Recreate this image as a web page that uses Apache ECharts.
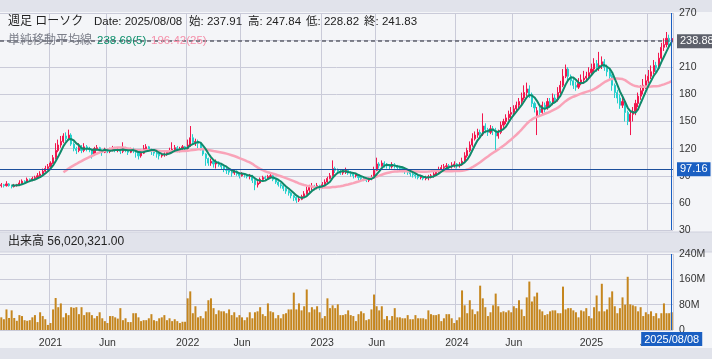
<!DOCTYPE html>
<html><head><meta charset="utf-8">
<script src="https://cdn.jsdelivr.net/npm/echarts@6/dist/echarts.min.js"></script>
<style>html,body{margin:0;padding:0;background:#e1e3eb}#c{width:712px;height:359px}</style>
</head><body><div id="c"></div>
<script>
// ---- weekly categories (week-ending Fridays) ----
const firstWeek = '2020-08-21';
const weekCount = 260;
const weeks = [];
(function(){
  const d = new Date(firstWeek + 'T00:00:00Z');
  for (let i = 0; i < weekCount; i++) {
    const t = new Date(d.getTime() + i * 7 * 86400000);
    const s = t.getUTCFullYear() + '/' + String(t.getUTCMonth()+1).padStart(2,'0') + '/' + String(t.getUTCDate()).padStart(2,'0');
    weeks.push(s);
  }
})();

// ---- weekly candles [open, close, low, high] ----
const ohlc = [
[79,80,77,82],[80,79,77,81],[79,81,78,84],[81,79,78,82],[79,78,76,80],[78,79,77,81],[79,80,78,81],[80,82,79,85],[82,84,81,86],[84,83,81,85],
[83,86,82,88],[86,85,83,87],[85,87,84,89],[87,88,85,90],[88,90,87,93],[90,92,89,95],[92,95,91,98],[95,98,94,101],[98,100,96,103],[100,104,99,106],
[104,110,103,113],[110,118,108,126],[118,124,116,130],[124,128,121,134],[128,134,126,137],[134,131,128,138],[131,135,129,141],[135,125,123,137],[125,120,117,127],[120,118,114,122],
[118,121,116,126],[121,118,115,124],[118,122,116,126],[122,120,117,124],[120,119,116,122],[119,114,109,120],[114,120,112,122],[120,121,118,124],[121,118,115,122],[118,116,112,119],
[116,119,115,121],[119,117,115,120],[117,118,115,121],[118,120,117,123],[120,118,116,122],[118,119,116,121],[119,117,114,120],[117,121,115,127],[121,118,116,122],[118,116,113,119],
[116,119,115,121],[119,118,115,121],[118,116,110,119],[116,112,108,117],[112,115,110,117],[115,120,114,124],[120,122,118,125],[122,119,117,123],[119,117,113,120],[117,115,112,118],
[115,114,110,117],[114,112,108,115],[112,113,110,115],[113,114,111,116],[114,116,112,118],[116,118,114,121],[118,119,115,127],[119,121,117,124],[121,118,116,123],[118,120,116,122],
[120,122,118,124],[122,120,118,123],[120,124,119,130],[124,132,122,145],[132,127,124,136],[127,128,123,131],[128,126,120,130],[126,120,118,127],[120,114,112,121],[114,109,101,115],
[109,104,101,110],[104,106,101,109],[106,103,99,108],[103,105,98,108],[105,102,100,106],[102,100,97,103],[100,97,94,101],[97,96,92,99],[96,94,91,97],[94,93,89,96],
[93,95,91,97],[95,92,90,96],[92,90,87,93],[90,92,89,94],[92,91,88,93],[91,89,87,92],[89,90,86,92],[90,85,82,91],[85,80,74,86],[80,82,77,84],
[82,86,81,88],[86,88,85,90],[88,87,85,90],[87,89,86,91],[89,90,87,92],[90,86,84,91],[86,83,81,87],[83,80,78,84],[80,79,76,82],[79,76,73,80],
[76,73,70,77],[73,71,68,74],[71,68,65,72],[68,66,62,69],[66,63,60,67],[63,64,61,66],[64,67,63,69],[67,70,66,73],[70,74,69,78],[74,77,72,80],
[77,78,74,82],[78,77,74,80],[77,79,75,82],[79,77,74,80],[77,80,76,83],[80,83,79,86],[83,87,82,89],[87,90,86,93],[90,98,89,107],[98,96,93,100],
[96,95,92,98],[95,93,91,97],[93,94,91,96],[94,96,92,99],[96,93,91,97],[93,92,89,95],[92,90,87,93],[90,91,88,93],[91,88,85,92],[88,87,84,90],
[87,86,84,89],[86,85,83,88],[85,86,83,88],[86,88,85,91],[88,96,87,100],[96,103,95,110],[103,101,98,105],[101,104,100,107],[104,102,99,106],[102,101,98,104],
[101,100,97,103],[100,102,98,105],[102,101,98,104],[101,99,96,102],[99,98,95,101],[98,97,94,100],[97,96,92,99],[96,94,91,97],[94,92,89,95],[92,91,88,94],
[91,90,87,93],[90,88,86,91],[88,89,86,91],[89,87,85,90],[87,88,85,90],[88,89,85,91],[89,90,87,92],[90,92,88,94],[92,94,90,96],[94,97,93,100],
[97,99,95,102],[99,100,96,103],[100,101,98,104],[101,100,97,103],[100,102,98,105],[102,103,99,106],[103,101,98,104],[101,102,99,105],[102,106,101,110],[106,112,105,116],
[112,118,110,121],[118,124,116,128],[124,131,122,137],[131,135,129,139],[135,138,132,142],[138,136,132,141],[136,145,134,159],[145,141,137,148],[141,138,134,143],[138,142,136,146],
[142,140,135,145],[140,134,118,143],[134,138,131,141],[138,146,136,150],[146,150,143,153],[150,154,147,158],[154,158,151,162],[158,160,154,166],[160,164,157,168],[164,168,161,172],
[168,172,165,176],[172,176,168,182],[176,182,174,190],[182,186,178,193],[186,180,176,190],[180,170,166,182],[170,165,160,172],[155,162,135,166],[164,160,155,167],[160,168,158,172],
[168,165,160,171],[165,172,163,176],[172,170,165,176],[170,176,168,181],[176,174,170,180],[174,182,172,188],[182,190,180,195],[190,200,188,208],[200,208,198,213],[208,200,196,210],
[200,195,190,202],[195,190,186,198],[190,188,184,194],[188,192,186,198],[192,196,190,202],[196,198,192,206],[198,200,194,205],[200,204,197,210],[204,208,201,214],[208,214,205,220],
[214,210,205,218],[210,212,206,227],[212,216,208,222],[216,210,206,219],[210,205,200,213],[205,200,195,208],[200,190,184,202],[190,182,176,192],[182,176,170,185],[176,168,164,180],
[168,172,165,178],[172,160,150,174],[160,150,146,162],[150,158,135,162],[158,161,150,166],[161,170,157,174],[170,178,166,182],[178,184,174,190],[184,190,180,197],[190,195,186,202],
[195,200,192,207],[200,205,197,212],[205,212,202,218],[212,209,204,216],[209,220,207,226],[220,232,218,237],[232,235,228,242],[235,242,232,249],[242,238,232,246],[237.91,241.83,228.82,247.84]
];

// ---- weekly volume, millions of shares ----
const volumesM = [
40,34,65,38,62,38,29,47,44,31,
29,31,40,47,25,56,44,34,16,22,
65,101,72,84,40,53,47,72,70,72,
50,72,47,56,56,47,37,44,56,37,
28,22,44,44,40,36,69,31,37,25,
25,53,53,40,28,31,31,37,50,31,
28,37,40,47,31,37,28,34,28,22,
26,26,100,122,53,75,40,44,37,59,
94,100,69,50,62,59,59,53,65,47,
56,40,47,40,31,40,56,37,56,59,
72,50,44,84,59,56,37,47,37,50,
53,65,65,118,65,84,62,75,128,56,
72,65,75,56,37,44,100,69,78,69,
81,47,47,50,62,47,44,28,50,59,
53,31,34,65,112,75,62,75,34,44,
31,44,69,40,40,37,37,47,34,34,
47,37,37,37,34,62,50,47,47,50,
28,37,50,50,37,22,31,40,125,78,
53,94,65,50,59,140,100,72,44,56,
78,115,75,56,59,56,62,56,75,69,
94,65,44,103,153,90,106,118,65,59,
47,50,59,62,62,53,53,137,65,69,
69,62,56,40,62,59,69,44,37,72,
109,59,146,59,65,103,122,75,53,69,
103,80,168,81,78,75,59,72,44,56,
50,59,44,53,37,53,84,53,53,56
];

// ---- reference lines / labels ----
const lastPriceLine = 238.88;
const crossPrice = 97.16;
const ma25Tag = 198.05;
const crossDate = '2025/08/08';
const priceAxis = { min: 30, max: 270, interval: 30 };
const volAxis = { min: 0, max: 240, interval: 80 };
const headerTexts = ['週足 ローソク', 'Date: 2025/08/08', '始: 237.91', '高: 247.84', '低: 228.82', '終: 241.83'];
const maTexts = ['単純移動平均線', '238.69(5)', '196.42(25)'];
const volTitle = '出来高 56,020,321.00';

function sma(n) {
  const out = [];
  for (let i = 0; i < ohlc.length; i++) {
    if (i < n - 1) { out.push('-'); continue; }
    let s = 0;
    for (let k = i - n + 1; k <= i; k++) s += ohlc[k][1];
    out.push(+(s / n).toFixed(2));
  }
  return out;
}

const labelIdx = new Set();
for (let i = 1; i < weeks.length; i++) {
  const m = +weeks[i].slice(5,7), pm = +weeks[i-1].slice(5,7);
  if (m !== pm && (m === 1 || m === 6)) labelIdx.add(i);
}
const showTick = (idx) => labelIdx.has(idx);

const FF = "'Liberation Sans','Noto Sans CJK JP',sans-serif";
const GRID_C = '#cacbd9';
const UP = '#f2164d', DOWN = '#25d0cc';
const BLUE = '#1a5fc2';

const chart = echarts.init(document.getElementById('c'), null, {renderer: 'canvas'});
const candleData = ohlc.map(r => [r[0], r[1], r[2], r[3]]);
const HF = '11.5px ' + FF;

chart.setOption({
  animation: false,
  backgroundColor: '#e1e3eb',
  textStyle: { fontFamily: FF },
  grid: [
    { left: 0, right: 39, top: 13, height: 217 },
    { left: 0, right: 39, top: 254, height: 76 }
  ],
  xAxis: [
    { type: 'category', gridIndex: 0, data: weeks, boundaryGap: true,
      axisLine: {show: false}, axisTick: {show: false}, axisLabel: {show: false},
      splitLine: {show: true, interval: showTick, lineStyle: {color: GRID_C, width: 1}} },
    { type: 'category', gridIndex: 1, data: weeks, boundaryGap: true,
      axisLine: {show: false}, axisTick: {show: false},
      axisLabel: { show: true, interval: showTick, color: '#333', fontSize: 10.5, fontFamily: FF, margin: 8,
        formatter: (v) => { const m = +v.slice(5,7); return m === 1 ? v.slice(0,4) : 'Jun'; } },
      splitLine: {show: true, interval: showTick, lineStyle: {color: GRID_C, width: 1}} }
  ],
  yAxis: [
    { type: 'value', gridIndex: 0, position: 'right', min: priceAxis.min, max: priceAxis.max, interval: priceAxis.interval,
      axisLine: {show: false}, axisTick: {show: false},
      axisLabel: {color: '#333', fontSize: 10.5, fontFamily: FF, margin: 6},
      splitLine: {lineStyle: {color: GRID_C, width: 1}} },
    { type: 'value', gridIndex: 1, position: 'right', min: volAxis.min, max: volAxis.max, interval: volAxis.interval,
      axisLine: {show: false}, axisTick: {show: false},
      axisLabel: {color: '#333', fontSize: 10.5, fontFamily: FF, margin: 6, formatter: v => v === 0 ? '0' : v + 'M'},
      splitLine: {lineStyle: {color: GRID_C, width: 1}} }
  ],
  series: [
    { type: 'candlestick', xAxisIndex: 0, yAxisIndex: 0, data: candleData, barWidth: 1.6,
      itemStyle: {color: UP, color0: DOWN, borderColor: UP, borderColor0: DOWN, borderWidth: 1},
      z: 2,
      markLine: { silent: true, symbol: 'none', animation: false, precision: 2,
        data: [
          { yAxis: lastPriceLine, lineStyle: {color: '#5d606b', type: [4, 3], width: 1.5},
            label: {formatter: '238.88', position: 'end', distance: 4, backgroundColor: '#5d606b', color: '#fff', padding: [2, 3, 1, 3], fontSize: 11, fontFamily: FF} },
          { yAxis: ma25Tag, lineStyle: {opacity: 0},
            label: {formatter: '198.05', position: 'end', distance: 4, backgroundColor: '#f7a1b5', color: '#fff', padding: [2, 3, 1, 3], fontSize: 11, fontFamily: FF} },
          { yAxis: crossPrice, lineStyle: {color: '#1c4f9c', type: 'solid', width: 1},
            label: {formatter: '97.16', position: 'end', distance: 4, backgroundColor: BLUE, color: '#fff', padding: [2, 3, 1, 3], fontSize: 11, fontFamily: FF} },
          { xAxis: crossDate, lineStyle: {color: BLUE, type: 'solid', width: 1}, label: {show: false} }
        ] } },
    { type: 'line', xAxisIndex: 0, yAxisIndex: 0, data: sma(25), showSymbol: false, smooth: false,
      lineStyle: {color: '#f9a3b8', width: 2.5}, z: 3 },
    { type: 'line', xAxisIndex: 0, yAxisIndex: 0, data: sma(5), showSymbol: false, smooth: false,
      lineStyle: {color: '#10896a', width: 2}, z: 4 },
    { type: 'bar', xAxisIndex: 1, yAxisIndex: 1, data: volumesM, barWidth: 2,
      itemStyle: {color: '#c5861e'},
      markLine: { silent: true, symbol: 'none', animation: false,
        data: [ { xAxis: crossDate, lineStyle: {color: BLUE, type: 'solid', width: 1},
          label: {show: true, position: 'start', distance: 2, formatter: crossDate, backgroundColor: BLUE, color: '#fff', padding: [2, 3, 1, 3], fontSize: 11, fontFamily: FF} } ] } }
  ],
  graphic: [
    { type: 'rect', z: -10, shape: {x: 0, y: 12, width: 712, height: 220}, style: {fill: '#f4f5f8'}, silent: true },
    { type: 'rect', z: -10, shape: {x: 0, y: 252, width: 712, height: 96}, style: {fill: '#f4f5f8'}, silent: true },
    { type: 'rect', z: -9, shape: {x: 0, y: 231.5, width: 712, height: 1}, style: {fill: '#cfd1dd'}, silent: true },
    { type: 'rect', z: -9, shape: {x: 0, y: 251.5, width: 712, height: 1}, style: {fill: '#cfd1dd'}, silent: true },
    { type: 'text', z: 100, x: 8, y: 22, style: {text: headerTexts[0], fill: '#222', font: '12px ' + FF, verticalAlign: 'middle'} },
    { type: 'text', z: 100, x: 94, y: 22, style: {text: headerTexts[1], fill: '#222', font: HF, verticalAlign: 'middle'} },
    { type: 'text', z: 100, x: 189, y: 22, style: {text: headerTexts[2], fill: '#222', font: HF, verticalAlign: 'middle'} },
    { type: 'text', z: 100, x: 248, y: 22, style: {text: headerTexts[3], fill: '#222', font: HF, verticalAlign: 'middle'} },
    { type: 'text', z: 100, x: 306, y: 22, style: {text: headerTexts[4], fill: '#222', font: HF, verticalAlign: 'middle'} },
    { type: 'text', z: 100, x: 364, y: 22, style: {text: headerTexts[5], fill: '#222', font: HF, verticalAlign: 'middle'} },
    { type: 'text', z: 100, x: 8, y: 41, style: {text: maTexts[0], fill: '#7a7d88', font: '12px ' + FF, verticalAlign: 'middle'} },
    { type: 'text', z: 100, x: 97, y: 41, style: {text: maTexts[1], fill: '#0e8f6c', font: HF, verticalAlign: 'middle'} },
    { type: 'text', z: 100, x: 151, y: 41, style: {text: maTexts[2], fill: '#f590aa', font: HF, verticalAlign: 'middle'} },
    { type: 'text', z: 100, x: 8, y: 242, style: {text: volTitle, fill: '#222', font: '12px ' + FF, verticalAlign: 'middle'} }
  ]
});
</script>
</body></html>
